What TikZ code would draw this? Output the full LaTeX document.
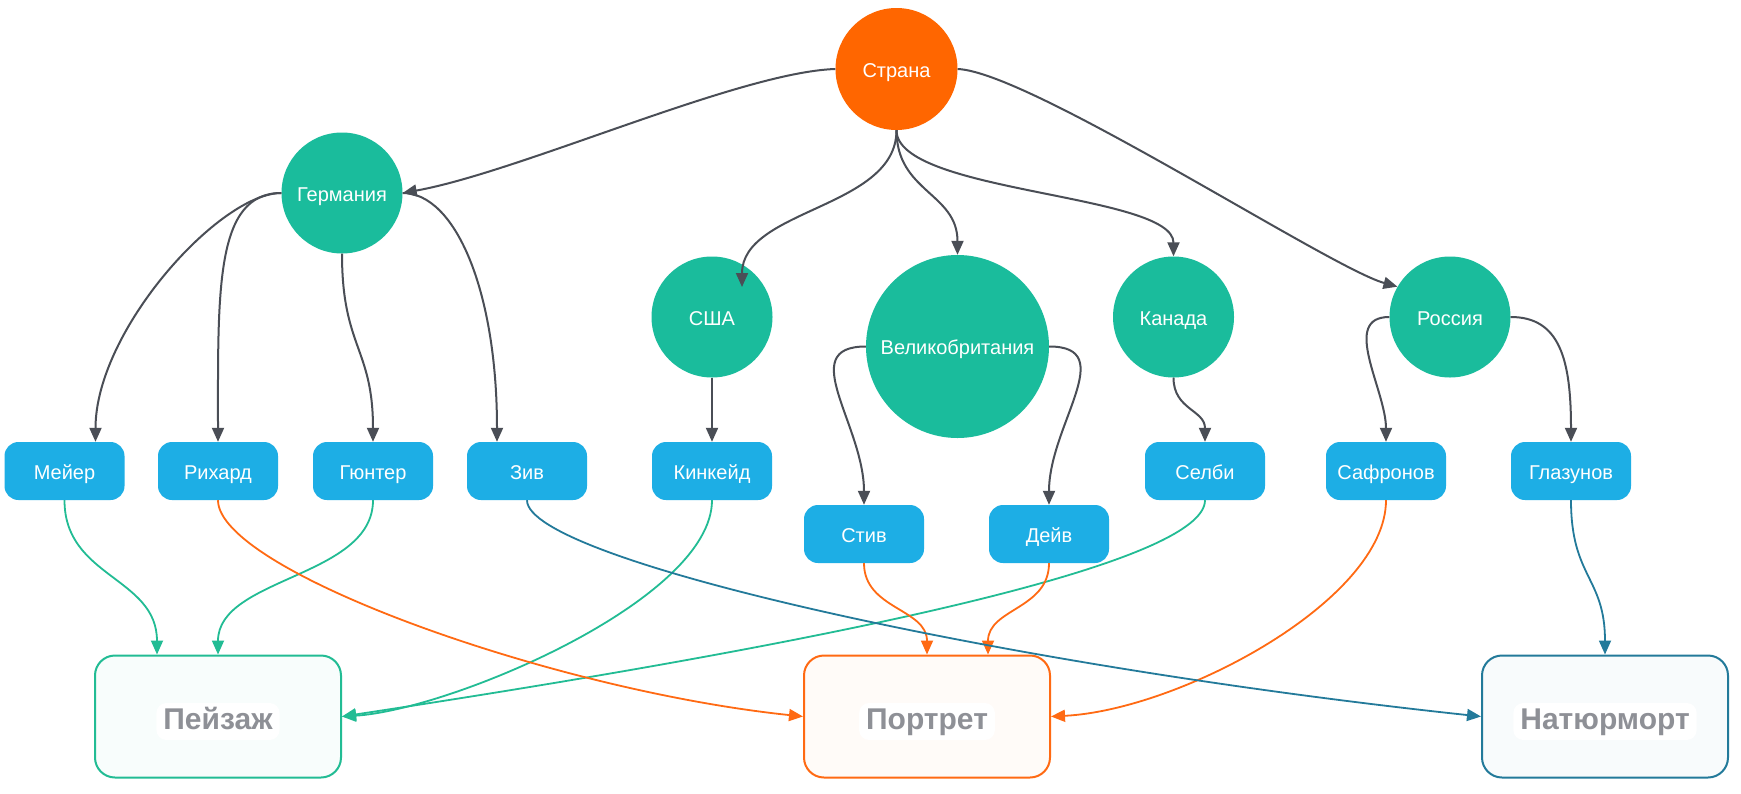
\documentclass[tikz,border=0pt]{standalone}
\usepackage{fontspec}
\setmainfont{Liberation Sans}
\usetikzlibrary{arrows.meta,calc}
\definecolor{corange}{HTML}{FF6600}
\definecolor{cgreen}{HTML}{1ABC9C}
\definecolor{cblue}{HTML}{1DAEE5}
\definecolor{cgray}{HTML}{4A4E56}
\definecolor{egreen}{HTML}{22BC94}
\definecolor{eorange}{HTML}{FF6A13}
\definecolor{eteal}{HTML}{237A9A}
\definecolor{ctext}{HTML}{8E9096}
\tikzset{
  cnode/.style={circle,fill=cgreen,text=white,minimum size=121pt,inner sep=0pt,text height=16pt,text depth=0pt,font=\fontsize{20}{24}\selectfont},
  bnode/.style={rectangle,rounded corners=14pt,fill=cblue,text=white,minimum width=120pt,minimum height=58pt,inner sep=0pt,text height=16pt,text depth=0pt,font=\fontsize{20}{24}\selectfont},
  cat/.style={rectangle,rounded corners=20pt,line width=2pt,minimum width=246pt,minimum height=122pt},
  halo/.style={rectangle,rounded corners=10pt,fill=white,text=ctext,inner xsep=7pt,inner ysep=4.5pt,text height=22pt,text depth=6pt,font=\fontsize{30}{36}\selectfont\bfseries},
  tip/.style={-{Triangle[length=14pt,width=12pt]}},
  gedge/.style={tip,draw=cgray,line width=2pt},
  greenedge/.style={tip,draw=egreen,line width=1.8pt},
  orangeedge/.style={tip,draw=eorange,line width=1.8pt},
  tealedge/.style={tip,draw=eteal,line width=1.8pt}
}
\begin{document}
\begin{tikzpicture}[x=1pt,y=-1pt]
\useasboundingbox[fill=white] (0,0) rectangle (1741,793);
% circles
\node[cnode,fill=corange,minimum size=122pt] (strana) at (896.5,69) {Страна};
\node[cnode] (germ) at (342,193) {Германия};
\node[cnode] (usa) at (712,317) {США};
\node[cnode,minimum size=183pt] (ukg) at (957.5,346.5) {Великобритания};
\node[cnode] (canada) at (1173.5,317) {Канада};
\node[cnode] (russia) at (1450,317) {Россия};
% boxes
\node[bnode] (meyer) at (64.5,471) {Мейер};
\node[bnode] (richard) at (218,471) {Рихард};
\node[bnode] (gunter) at (373,471) {Гюнтер};
\node[bnode] (ziv) at (527,471) {Зив};
\node[bnode] (kinkeid) at (712,471) {Кинкейд};
\node[bnode] (selbi) at (1205,471) {Селби};
\node[bnode] (safronov) at (1386,471) {Сафронов};
\node[bnode] (glazunov) at (1571,471) {Глазунов};
\node[bnode] (stiv) at (864,534) {Стив};
\node[bnode] (deiv) at (1049,534) {Дейв};
% categories
\node[cat,draw=egreen,fill=egreen!3] (peyzazh) at (218,716.5) {};
\node[cat,draw=eorange,fill=eorange!3] (portret) at (927,716.5) {};
\node[cat,draw=eteal,fill=eteal!3] (natyurmort) at (1605,716.5) {};
\node[halo] (peyzazhl) at ($(peyzazh)+(0,5)$) {Пейзаж};
\node[halo] (portretl) at ($(portret)+(0,5)$) {Портрет};
\node[halo] (natyurmortl) at ($(natyurmort)+(0,5)$) {Натюрморт};
% helper coordinates
\coordinate (usatip) at ($(usa)+(30,-30)$);
\coordinate (meyertip) at ($(meyer.north)+(31,0)$);
\coordinate (zivtip) at ($(ziv.north)+(-30,0)$);
\coordinate (peyzazhtip) at ($(peyzazh.north)+(-61,0)$);
\coordinate (portrettip) at ($(portret.north)+(61,0)$);
% gray edges
\draw[gedge] (strana.west) .. controls (740,72) and (520,172) .. (germ.east);
\draw[gedge] (strana.east) .. controls (1030,72) and (1330,268) .. (russia.150);
\draw[gedge] (strana.south) .. controls +(0,78.5) and +(0,-78.5) .. (usatip);
\draw[gedge] (strana.south) .. controls +(0,62) and +(0,-62) .. (ukg.north);
\draw[gedge] (strana.south) .. controls +(0,63) and +(0,-63) .. (canada.north);
\draw[gedge] (germ.west) .. controls (220,193) and (95.5,330) .. (meyertip);
\draw[gedge] (germ.west) .. controls (215,193) and (218,290) .. (richard.north);
\draw[gedge] (germ.south) .. controls +(0,94) and +(0,-94) .. (gunter.north);
\draw[gedge] (germ.east) .. controls (455,193) and (497,290) .. (zivtip);
\draw[gedge] (usa.south) -- (kinkeid.north);
\draw[gedge] (ukg.west) .. controls (795,346.5) and (864,425) .. (stiv.north);
\draw[gedge] (ukg.east) .. controls (1120,346.5) and (1049,425) .. (deiv.north);
\draw[gedge] (canada.south) .. controls +(0,32) and +(0,-32) .. (selbi.north);
\draw[gedge] (russia.west) .. controls (1340,317) and (1386,390) .. (safronov.north);
\draw[gedge] (russia.east) .. controls (1560,317) and (1571,360) .. (glazunov.north);
% colored edges
\draw[greenedge] (meyer.south) .. controls +(0,77.5) and +(0,-77.5) .. (peyzazhtip);
\draw[greenedge] (gunter.south) .. controls +(0,77.5) and +(0,-77.5) .. (peyzazh.north);
\draw[greenedge] (kinkeid.south) .. controls (712,600) and (450,710) .. (peyzazh.east);
\draw[greenedge] (selbi.south) .. controls (1205,560) and (880,635) .. (peyzazh.east);
\draw[orangeedge] (richard.south) .. controls (218,570) and (550,690) .. (portret.west);
\draw[orangeedge] (stiv.south) .. controls +(0,46) and +(0,-46) .. (portret.north);
\draw[orangeedge] (deiv.south) .. controls +(0,46) and +(0,-46) .. (portrettip);
\draw[orangeedge] (safronov.south) .. controls (1386,600) and (1180,710) .. (portret.east);
\draw[tealedge] (ziv.south) .. controls (527,560) and (1000,665) .. (natyurmort.west);
\draw[tealedge] (glazunov.south) .. controls +(0,77.5) and +(0,-77.5) .. (natyurmort.north);
\end{tikzpicture}
\end{document}
